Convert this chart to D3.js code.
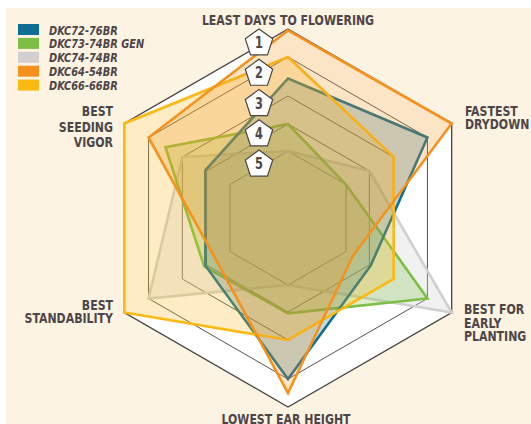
<!DOCTYPE html>
<html>
<head>
<meta charset="utf-8">
<script src="https://cdn.jsdelivr.net/npm/d3@7"></script>
<style>
body { margin: 0; background: #fff; }
text { font-family: "Liberation Sans Narrow", "DejaVu Sans Condensed", "Roboto", sans-serif; font-weight: bold; fill: #4d4547; }
</style>
</head>
<body>
<div id="chart"></div>
<script>
// axes, clockwise from the top
var axes = [["LEAST DAYS TO FLOWERING"], ["FASTEST", "DRYDOWN"], ["BEST FOR", "EARLY", "PLANTING"],
            ["LOWEST EAR HEIGHT"], ["BEST", "STANDABILITY"], ["BEST", "SEEDING", "VIGOR"]];
var hybrids = ["DKC72-76BR", "DKC73-74BR GEN", "DKC74-74BR", "DKC64-54BR", "DKC66-66BR"];
var colors = ["#0f6f93", "#7bbf45", "#d1cfcf", "#f5921e", "#fdb913"];
var ranks = [1, 2, 3, 4, 5];

// rank per axis (1 = best, outer ring)
var dkc7276 = [2.55, 2, 3.95, 2, 3.95, 3.95];
var dkc7374 = [4, 5, 2, 3.95, 3.9, 2.5];
var dkc7474 = [5, 4, 1, 5, 2, 3];
var dkc6454 = [1.05, 1, 4.7, 1.5, 4.4, 2];
var dkc6666 = [2, 3, 3, 3, 1, 1];

var series = [dkc7276, dkc7374, dkc7474, dkc6454, dkc6666];
var fillOpacity = [0.27, 0.25, 0.3, 0.25, 0.25];
var drawOrder = [2, 1, 0, 4, 3];

var width = 531, height = 424;
var cx = 288, cy = 218;
var squeeze = 0.84; // condensed look for the label face

var svg = d3.select("#chart")
  .append("svg")
  .attr("width", width)
  .attr("height", height);

svg.append("rect")
  .attr("x", 6).attr("y", 8)
  .attr("width", width - 6).attr("height", height - 8)
  .attr("fill", "#fdf3e3");

var rScale = d3.scaleLinear()
  .domain([1, 2, 3, 4, 5])
  .range([189, 161, 122, 94, 67]);

var angle = d3.scaleLinear()
  .domain([0, axes.length])
  .range([0, 2 * Math.PI]);

var radial = d3.lineRadial()
  .angle(function(d, i) { return angle(i); })
  .radius(function(d) { return rScale(d); })
  .curve(d3.curveLinearClosed);

var g = svg.append("g")
  .attr("transform", "translate(" + cx + "," + cy + ")");

// outer hexagon
g.append("path")
  .attr("d", radial(axes.map(function() { return 1; })))
  .attr("fill", "#fff")
  .attr("stroke", "#4a4545")
  .attr("stroke-width", 1.3);

// inner rings
g.selectAll("path.ring")
  .data(ranks.slice(1))
  .enter()
  .append("path")
  .attr("class", "ring")
  .attr("d", function(r) { return radial(axes.map(function() { return r; })); })
  .attr("fill", "none")
  .attr("stroke", "#5a5050")
  .attr("stroke-width", 1);

// hybrids
g.selectAll("path.hybrid")
  .data(drawOrder)
  .enter()
  .append("path")
  .attr("class", "hybrid")
  .attr("d", function(k) { return radial(series[k]); })
  .attr("fill", function(k) { return colors[k]; })
  .attr("fill-opacity", function(k) { return fillOpacity[k]; })
  .attr("stroke", function(k) { return colors[k]; })
  .attr("stroke-width", 2.6)
  .attr("stroke-linejoin", "miter");

// rank badges
var pent = d3.range(5).map(function(i) {
  var a = -Math.PI / 2 + i * 2 * Math.PI / 5;
  return [14.4 * Math.cos(a), 14.4 * Math.sin(a) + 1.3];
});
var badge = svg.selectAll("g.badge")
  .data(ranks)
  .enter()
  .append("g")
  .attr("class", "badge")
  .attr("transform", function(d, i) { return "translate(259," + (42 + i * 30.3) + ")"; });
badge.append("path")
  .attr("d", "M" + pent.join("L") + "Z")
  .attr("fill", "#fff")
  .attr("stroke", "#4a4545")
  .attr("stroke-width", 1.2);
badge.append("text")
  .text(function(d) { return d; })
  .attr("text-anchor", "middle")
  .attr("y", 6)
  .attr("font-size", 15)
  .attr("transform", "scale(" + squeeze + ",1)");

// axis labels
var labelPos = [
  { x: 288, y: 25, anchor: "middle", dy: 13 },
  { x: 465, y: 116, anchor: "start", dy: 12.5 },
  { x: 464, y: 314, anchor: "start", dy: 13.5 },
  { x: 286, y: 424, anchor: "middle", dy: 13 },
  { x: 113, y: 310, anchor: "end", dy: 13.3 },
  { x: 113, y: 116, anchor: "end", dy: 15.6 }
];
axes.forEach(function(lines, i) {
  var p = labelPos[i];
  lines.forEach(function(line, j) {
    svg.append("text")
      .text(line)
      .attr("text-anchor", p.anchor)
      .attr("font-size", 14.5)
      .attr("transform", "translate(" + p.x + "," + (p.y + j * p.dy) + ") scale(" + squeeze + ",1)");
  });
});

// legend
var legend = svg.selectAll("g.legend")
  .data(hybrids)
  .enter()
  .append("g")
  .attr("class", "legend")
  .attr("transform", function(d, i) { return "translate(18," + (24 + i * 13.9) + ")"; });
legend.append("rect")
  .attr("width", 21)
  .attr("height", 11)
  .attr("fill", function(d, i) { return colors[i]; });
legend.append("text")
  .text(function(d) { return d; })
  .attr("font-size", 13)
  .attr("font-style", "italic")
  .attr("transform", "translate(31,10.5) scale(" + squeeze + ",1)");
</script>
</body>
</html>
